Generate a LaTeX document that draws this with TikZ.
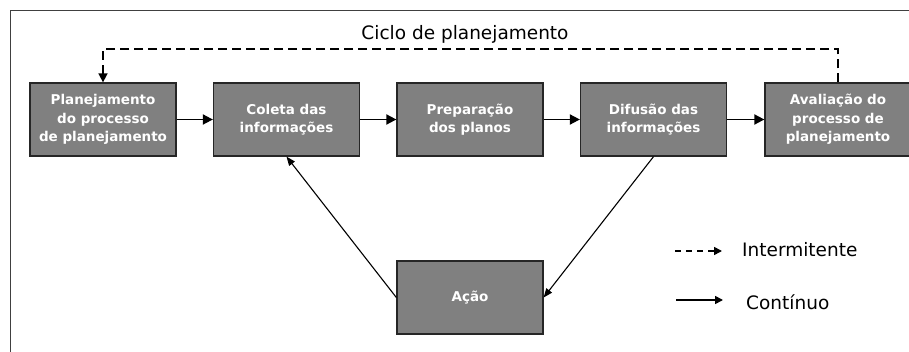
\documentclass[tikz,border=0pt]{standalone}
\usepackage{fontspec}
\setmainfont{DejaVu Sans}
\usepackage{xcolor}
\usetikzlibrary{arrows, arrows.meta}
\definecolor{boxgray}{HTML}{808080}
\definecolor{framegray}{HTML}{404040}

\begin{document}
\begin{tikzpicture}[x=1pt, y=-1pt,
	etapa/.style={rectangle, draw=black!85, line width=1.3pt, fill=boxgray, text=white,
		minimum width=146pt, minimum height=73pt, align=center, inner sep=2pt,
		font=\bfseries\fontsize{13.5}{18.3}\selectfont},
	continuo/.style={-{Triangle[length=10pt, width=10pt]}, line width=1.8pt},
	diagonal/.style={-{Triangle[length=9pt, width=7pt]}, line width=1.1pt},
	intermitente/.style={-{Triangle[length=9pt, width=9pt]}, line width=1.7pt, dash pattern=on 9pt off 5pt},
	legenda/.style={font=\fontsize{18.5}{22}\selectfont, inner sep=0pt}]
	\useasboundingbox (0,0) rectangle (909,352);
	\fill[white] (0,0) rectangle (909,352);
	\draw[framegray, line width=1.5pt] (915,10.5) -- (10.5,10.5) -- (10.5,360);
				\node[etapa] (planej)  at (103,119.5){Planejamento\\do processo\\de planejamento};
				\node[etapa] (coleta)  at (286.5,119.5){Coleta das\\informações};
				\node[etapa] (prep)    at (470,119.5){Preparação\\dos planos};
				\node[etapa] (difusao) at (653.5,119.5){Difusão das\\informações};
				\node[etapa] (aval)    at (838,119.5){Avaliação do\\processo de\\planejamento};
				\node[etapa] (acao)    at (470,297.5){Ação};
				\node[legenda, anchor=base] (titulo) at (465,40){Ciclo de planejamento};
				\draw[continuo] (planej) -- (coleta);
				\draw[continuo] (coleta) -- (prep);
				\draw[continuo] (prep) -- (difusao);
				\draw[continuo] (difusao) -- (aval);
				\draw[diagonal] (acao.west) -- (coleta.south);
				\draw[diagonal] (difusao.south) -- (acao.east);
				\draw[intermitente] (aval.north) -- ++(0,-33) -| (planej.north);
				% legenda
				\coordinate (legA1) at (675,251);
				\coordinate (legA2) at (722,251);
				\coordinate (legB1) at (676,300);
				\coordinate (legB2) at (723,300);
				\draw[-{Triangle[length=8pt, width=8pt]}, line width=1.6pt, dash pattern=on 6pt off 5pt] (legA1) -- (legA2);
				\draw[-{Triangle[length=8pt, width=8pt]}, line width=1.6pt] (legB1) -- (legB2);
				\node[legenda, anchor=base west] (legInt) at (742,257){Intermitente};
				\node[legenda, anchor=base west] (legCont) at (746,309){Contínuo};
\end{tikzpicture}
\end{document}
